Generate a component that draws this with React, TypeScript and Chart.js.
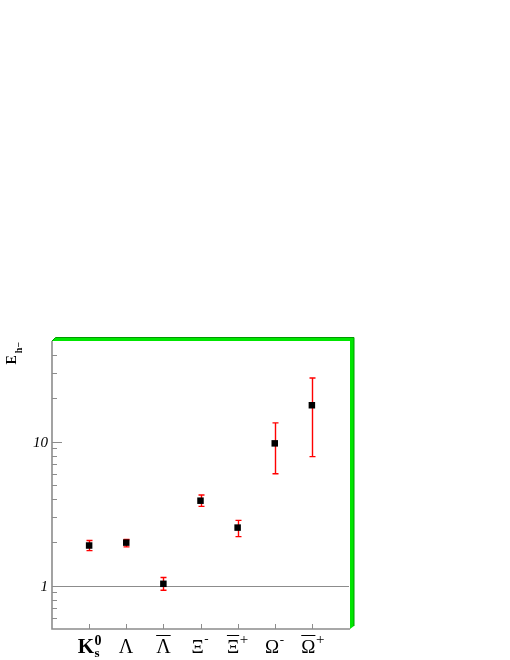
import React, { useEffect, useRef } from "react";
import { Chart, registerables } from "chart.js";

Chart.register(...registerables);

// ---- data ----
const categories = ["K0s", "Λ", "anti-Λ", "Ξ-", "anti-Ξ+", "Ω-", "anti-Ω+"];
const xPositions = [1, 2, 3, 4, 5, 6, 7];
const enhancement = [1.9, 1.99, 1.03, 3.89, 2.53, 9.73, 17.9];
const errLow = [1.75, 1.86, 0.93, 3.55, 2.19, 5.98, 7.87];
const errHigh = [2.06, 2.09, 1.14, 4.26, 2.84, 13.5, 27.7];
const yMajorTicks = [1, 10];
const yMajorLabels = ["1", "10"];
const yMinorTicks = [0.6, 0.7, 0.8, 0.9, 2, 3, 4, 5, 6, 7, 8, 9, 20, 30, 40];
const yTitle = "E";
const yTitleSub = "h\u2212";

type Part = { t: string; size: number; bold?: boolean; dy?: number; stack?: boolean; bar?: boolean };
const xLabelParts: Part[][] = [
  [{ t: "K", size: 21, bold: true }, { t: "0", size: 14, bold: true, dy: -8 }, { t: "s", size: 13, bold: true, dy: 4, stack: true }],
  [{ t: "Λ", size: 20 }],
  [{ t: "Λ", size: 20, bar: true }],
  [{ t: "Ξ", size: 19 }, { t: "-", size: 13, dy: -10 }],
  [{ t: "Ξ", size: 19, bar: true }, { t: "+", size: 15, dy: -9.5 }],
  [{ t: "Ω", size: 19 }, { t: "-", size: 13, dy: -9 }],
  [{ t: "Ω", size: 19, bar: true }, { t: "+", size: 15, dy: -9.5 }],
];
const xLabelShift = [-11.5, -7.4, -7.2, -9, -10.7, -9.7, -10.6];

const SERIF = "'Liberation Serif', 'DejaVu Serif', serif";
const AXIS_GRAY = "#8c8c8c";

const customPlugin = {
  id: "rootStyle",
  beforeDatasetsDraw(chart: any) {
    const ctx = chart.ctx as CanvasRenderingContext2D;
    const xs = chart.scales.x;
    const ys = chart.scales.y;
    const { left, right, top, bottom } = chart.chartArea;
    ctx.save();

    // horizontal reference line at 1
    ctx.strokeStyle = AXIS_GRAY;
    ctx.lineWidth = 1;
    const y1 = Math.round(ys.getPixelForValue(1)) + 0.5;
    ctx.beginPath();
    ctx.moveTo(left, y1);
    ctx.lineTo(right, y1);
    ctx.stroke();

    // axes
    ctx.lineWidth = 1.6;
    ctx.beginPath();
    ctx.moveTo(left, top);
    ctx.lineTo(left, bottom);
    ctx.lineTo(right + 1, bottom);
    ctx.stroke();

    // y ticks
    ctx.lineWidth = 1;
    yMajorTicks.forEach((v) => {
      const y = Math.round(ys.getPixelForValue(v)) + 0.5;
      ctx.beginPath();
      ctx.moveTo(left, y);
      ctx.lineTo(left + 10, y);
      ctx.stroke();
    });
    yMinorTicks.forEach((v) => {
      const y = Math.round(ys.getPixelForValue(v)) + 0.5;
      ctx.beginPath();
      ctx.moveTo(left, y);
      ctx.lineTo(left + 5, y);
      ctx.stroke();
    });

    // x ticks
    xPositions.forEach((v) => {
      const x = Math.round(xs.getPixelForValue(v)) + 0.5;
      ctx.beginPath();
      ctx.moveTo(x, bottom);
      ctx.lineTo(x, bottom - 5);
      ctx.stroke();
    });

    // y tick labels
    ctx.fillStyle = "#000";
    ctx.font = `italic 15px ${SERIF}`;
    ctx.textAlign = "right";
    ctx.textBaseline = "middle";
    yMajorTicks.forEach((v, i) => {
      ctx.fillText(yMajorLabels[i], left - 4, ys.getPixelForValue(v) + 1);
    });

    // x labels
    ctx.textAlign = "left";
    ctx.textBaseline = "alphabetic";
    const base = bottom + 24;
    xLabelParts.forEach((parts, i) => {
      let cursor = xs.getPixelForValue(xPositions[i]) + xLabelShift[i];
      let prevX = cursor;
      parts.forEach((p, j) => {
        ctx.font = `${p.bold ? "bold " : ""}${p.size}px ${SERIF}`;
        const x = p.stack ? prevX : cursor + (j > 0 ? 0.5 : 0);
        ctx.fillText(p.t, x, base + (p.dy || 0));
        const w = ctx.measureText(p.t).width;
        if (p.bar) {
          ctx.strokeStyle = "#000";
          ctx.lineWidth = 1;
          ctx.beginPath();
          ctx.moveTo(x, base - 17.5);
          ctx.lineTo(x + w, base - 17.5);
          ctx.stroke();
        }
        prevX = x;
        cursor = Math.max(cursor, x + w);
      });
    });

    // y title (rotated)
    ctx.save();
    ctx.translate(15.8, 364.5);
    ctx.rotate(-Math.PI / 2);
    ctx.font = `bold 14px ${SERIF}`;
    ctx.fillText(yTitle, 0, 0);
    const we = ctx.measureText(yTitle).width;
    ctx.font = `bold 10px ${SERIF}`;
    ctx.fillText(yTitleSub, we + 2, 6.5);
    ctx.restore();

    // error bars
    ctx.strokeStyle = "#ff0000";
    ctx.lineWidth = 1.4;
    xPositions.forEach((v, i) => {
      const x = Math.round(xs.getPixelForValue(v)) + 0.5;
      const yl = ys.getPixelForValue(errLow[i]);
      const yh = ys.getPixelForValue(errHigh[i]);
      ctx.beginPath();
      ctx.moveTo(x, yl);
      ctx.lineTo(x, yh);
      ctx.moveTo(x - 3, yl);
      ctx.lineTo(x + 3, yl);
      ctx.moveTo(x - 3, yh);
      ctx.lineTo(x + 3, yh);
      ctx.stroke();
    });

    ctx.restore();
  },
  afterDatasetsDraw(chart: any) {
    const ctx = chart.ctx as CanvasRenderingContext2D;
    const { left, right, top, bottom } = chart.chartArea;
    ctx.save();
    // green 3D frame
    ctx.fillStyle = "#00e600";
    ctx.strokeStyle = "#009a00";
    ctx.lineWidth = 1;
    ctx.beginPath();
    ctx.moveTo(left, top);
    ctx.lineTo(left + 3.5, top - 3.5);
    ctx.lineTo(right + 5, top - 3.5);
    ctx.lineTo(right + 5, bottom - 3);
    ctx.lineTo(right + 1, bottom);
    ctx.lineTo(right + 1, top);
    ctx.closePath();
    ctx.fill();
    ctx.beginPath();
    ctx.moveTo(left, top);
    ctx.lineTo(left + 3.5, top - 3.5);
    ctx.lineTo(right + 5, top - 3.5);
    ctx.lineTo(right + 5, bottom - 3);
    ctx.stroke();
    ctx.restore();
  },
};

export default function App() {
  const canvasRef = useRef<HTMLCanvasElement | null>(null);

  useEffect(() => {
    const canvas = canvasRef.current;
    if (!canvas) return;
    const chart = new Chart(canvas, {
      type: "scatter",
      data: {
        labels: categories,
        datasets: [
          {
            label: "enhancement",
            data: xPositions.map((x, i) => ({ x, y: enhancement[i] })),
            pointStyle: "rect",
            pointRadius: 4.6,
            pointHoverRadius: 4.6,
            backgroundColor: "#000",
            borderColor: "#000",
            borderWidth: 0,
          },
        ],
      },
      options: {
        animation: false,
        responsive: false,
        devicePixelRatio: 1,
        layout: { padding: { left: 52, top: 341, right: 161, bottom: 31 } },
        scales: {
          x: { type: "linear", min: 0, max: 8, display: false },
          y: { type: "logarithmic", min: 0.5, max: 50, display: false },
        },
        plugins: {
          legend: { display: false },
          tooltip: { enabled: false },
        },
      },
      plugins: [customPlugin],
    });
    return () => chart.destroy();
  }, []);

  return (
    <div style={{ position: "absolute", left: 0, top: 0, width: 510, height: 660, background: "#fff" }}>
      <canvas ref={canvasRef} width={510} height={660} style={{ display: "block" }} />
    </div>
  );
}
